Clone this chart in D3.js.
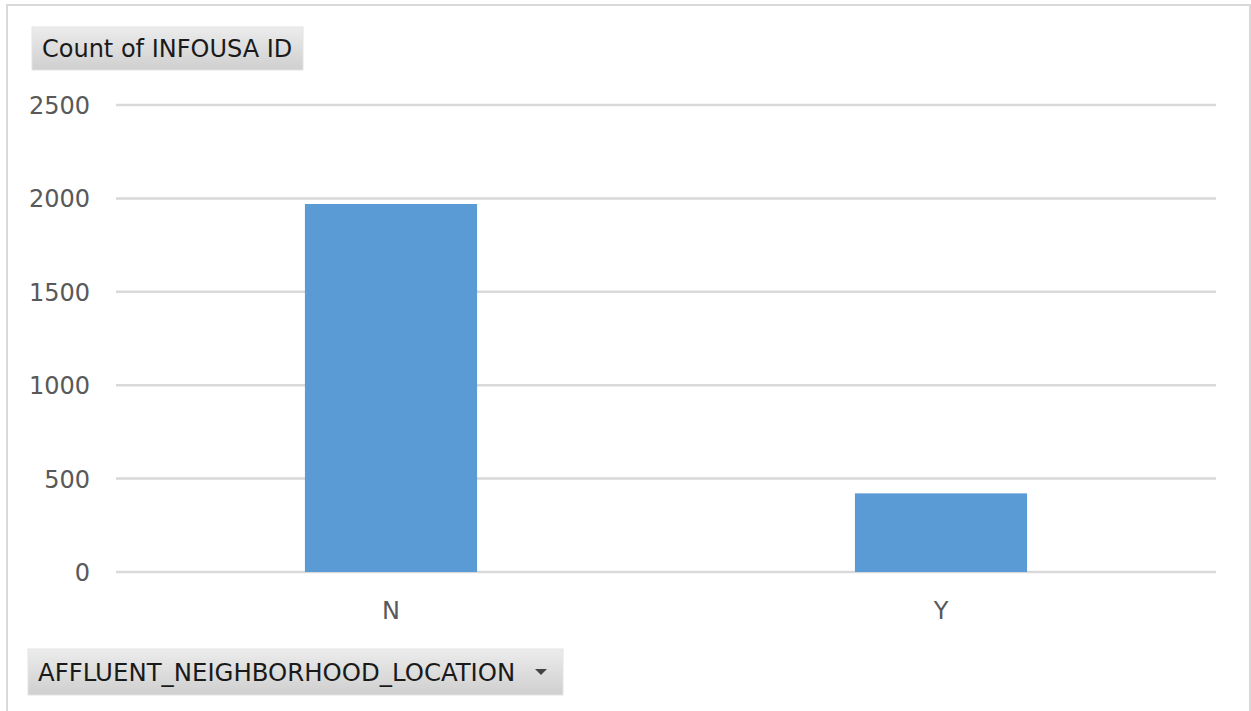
<!DOCTYPE html>
<html>
<head>
<meta charset="utf-8">
<script src="https://cdn.jsdelivr.net/npm/d3@7"></script>
<style>
  html, body { margin: 0; padding: 0; background: #fff; }
  svg { display: block; }
</style>
</head>
<body>
<svg id="chart" width="1251" height="711"></svg>
<script>
// Pivot chart data: count of records by neighborhood flag
const categories = ["N", "Y"];
const counts = [1970, 421];
const yTicks = [0, 500, 1000, 1500, 2000, 2500];
const valueFieldLabel = "Count of INFOUSA ID";
const axisFieldLabel = "AFFLUENT_NEIGHBORHOOD_LOCATION";

const svg = d3.select("#chart");
const W = 1251, H = 711;
const font = "Tahoma, 'DejaVu Sans', Verdana, sans-serif";

// Chart area frame
svg.append("rect")
  .attr("x", 7).attr("y", 5)
  .attr("width", W - 8).attr("height", H + 10)
  .attr("fill", "#fff")
  .attr("stroke", "#d9d9d9")
  .attr("stroke-width", 2);

const plot = { left: 116, right: 1216, top: 105, bottom: 572 };

const x = d3.scaleBand()
  .domain(categories)
  .range([plot.left, plot.right])
  .paddingInner(0.687)
  .paddingOuter(0.3435);

const y = d3.scaleLinear()
  .domain([0, 2500])
  .range([plot.bottom, plot.top]);

// Horizontal gridlines
svg.append("g")
  .selectAll("line")
  .data(yTicks)
  .join("line")
  .attr("x1", plot.left).attr("x2", plot.right)
  .attr("y1", d => y(d)).attr("y2", d => y(d))
  .attr("stroke", "#d9d9d9")
  .attr("stroke-width", 2.5);

// Y axis labels
const yAxis = d3.axisLeft(y).tickValues(yTicks).tickFormat(d3.format("d"))
  .tickSize(0).tickPadding(0);
const yg = svg.append("g")
  .attr("transform", `translate(${plot.left - 26},0)`)
  .call(yAxis);
yg.select(".domain").remove();
yg.selectAll("text")
  .attr("font-family", font)
  .attr("font-size", 24)
  .attr("fill", "#595959")
  .attr("dy", "0.35em");

// Bars
svg.append("g")
  .selectAll("rect")
  .data(categories.map((c, i) => ({ c, v: counts[i] })))
  .join("rect")
  .attr("x", d => x(d.c))
  .attr("width", x.bandwidth())
  .attr("y", d => y(d.v))
  .attr("height", d => y(0) - y(d.v))
  .attr("fill", "#5b9bd5");

// X axis labels
const xAxis = d3.axisBottom(x).tickSize(0).tickPadding(0);
const xg = svg.append("g")
  .attr("transform", `translate(0,${plot.bottom + 30})`)
  .call(xAxis);
xg.select(".domain").remove();
xg.selectAll("text")
  .attr("font-family", font)
  .attr("font-size", 24)
  .attr("fill", "#595959")
  .attr("dy", "0.71em");

// Field buttons
const defs = svg.append("defs");
const grad = defs.append("linearGradient")
  .attr("id", "btnGrad")
  .attr("x1", 0).attr("y1", 0).attr("x2", 0).attr("y2", 1);
grad.append("stop").attr("offset", "0%").attr("stop-color", "#ececec");
grad.append("stop").attr("offset", "100%").attr("stop-color", "#cfcfcf");

function fieldButton(bx, by, bw, bh, label, size, arrow) {
  const g = svg.append("g");
  g.append("rect")
    .attr("x", bx).attr("y", by)
    .attr("width", bw).attr("height", bh)
    .attr("fill", "url(#btnGrad)")
    .attr("stroke", "#e3e3e3")
    .attr("stroke-width", 1);
  g.append("text")
    .attr("x", bx + 10)
    .attr("y", by + bh / 2)
    .attr("dy", "0.36em")
    .attr("font-family", font)
    .attr("font-size", size)
    .attr("fill", "#1a1a1a")
    .text(label);
  if (arrow) {
    const ax = bx + bw - 22, ay = by + bh / 2;
    g.append("path")
      .attr("d", `M${ax - 6},${ay - 3} L${ax + 6},${ay - 3} L${ax},${ay + 3} Z`)
      .attr("fill", "#444");
  }
}

fieldButton(32, 27, 271, 43, valueFieldLabel, 24, false);
fieldButton(28, 649, 535, 46, axisFieldLabel, 24.4, true);
</script>
</body>
</html>
